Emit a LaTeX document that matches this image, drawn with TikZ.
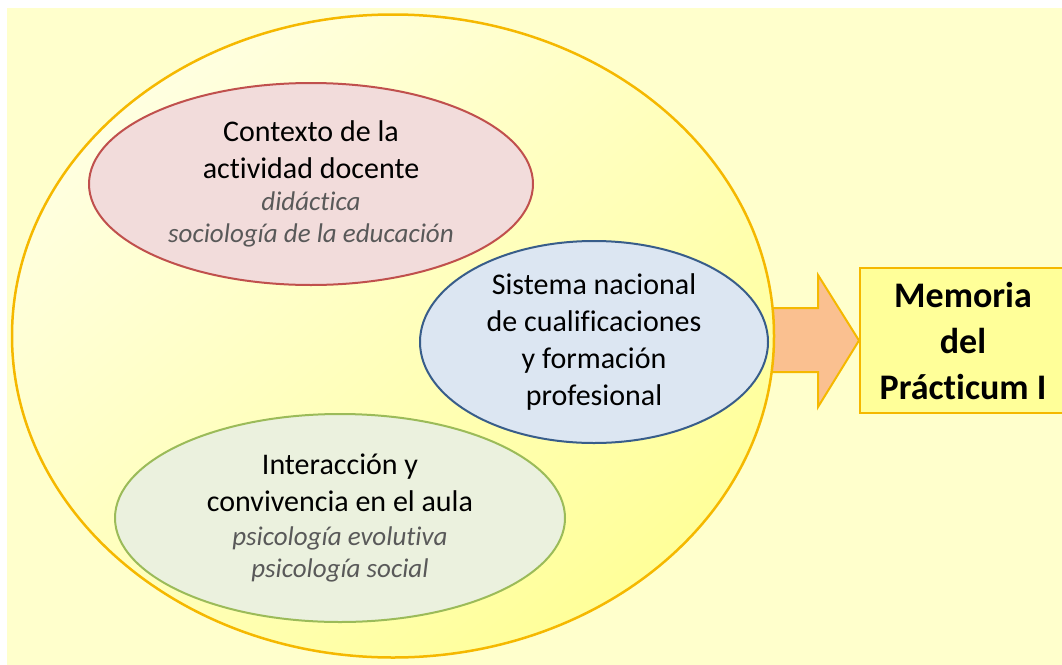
\documentclass[tikz,border=0pt]{standalone}
\usepackage{fontspec}
\setmainfont{Carlito}[Ligatures=NoCommon]
\usetikzlibrary{shapes.geometric}

\definecolor{paleyellow}{HTML}{FFFFCC}
\definecolor{fieldyellow}{HTML}{FFFF99}
\definecolor{ringorange}{HTML}{F5B800}
\definecolor{peach}{HTML}{FAC090}
\definecolor{redline}{HTML}{C0504D}
\definecolor{redfill}{HTML}{F2DCDB}
\definecolor{blueline}{HTML}{385D8A}
\definecolor{bluefill}{HTML}{DCE6F2}
\definecolor{greenline}{HTML}{9BBB59}
\definecolor{greenfill}{HTML}{EBF1DE}
\definecolor{subgray}{HTML}{595959}

\newcommand{\asignatura}[1]{{\fontsize{27}{32}\selectfont\itshape\color{subgray}#1}}

\begin{document}
\begin{tikzpicture}[x=1pt,y=-1pt,
    area/.style={ellipse,draw,line width=2pt,inner sep=0pt,align=center,font=\fontsize{30}{37}\selectfont},
    memo/.style={draw=ringorange,fill=fieldyellow,line width=2pt,align=center,minimum width=206,minimum height=145,font=\fontsize{36}{46}\selectfont\bfseries}]
\useasboundingbox (0,0) rectangle (1062,664);
\clip (0,0) rectangle (1062,664);
\fill[paleyellow] (7,8) rectangle (1066,668);
\node[memo] (memoria) at (963,340.5) {Memoria\\del\\Prácticum I};
\filldraw[fill=peach,draw=ringorange,line width=2pt,line join=miter]
    (760,308) -- (818,308) -- (818,275) -- (memoria.west) -- (818,407) -- (818,372) -- (760,372) -- cycle;
\node[ellipse,draw=ringorange,line width=2.5pt,minimum width=762,minimum height=643,inner sep=0pt,
    top color=paleyellow!60!white,middle color=fieldyellow,bottom color=fieldyellow,shading angle=40] (ambito) at (393,336) {};
\node[area,draw=redline,fill=redfill,minimum width=444,minimum height=202] (contexto) at (311,184)
    {Contexto de la\\actividad docente\\[-5pt]\asignatura{didáctica}\\[-5pt]\asignatura{sociología de la educación}};
\node[area,draw=blueline,fill=bluefill,minimum width=348,minimum height=202] (sistema) at (594,342)
    {Sistema nacional\\de cualificaciones\\y formación\\profesional};
\node[area,draw=greenline,fill=greenfill,minimum width=450,minimum height=208] (interaccion) at (340,518)
    {Interacción y\\convivencia en el aula\\[-3pt]\asignatura{psicología evolutiva}\\[-5pt]\asignatura{psicología social}};
\end{tikzpicture}
\end{document}
